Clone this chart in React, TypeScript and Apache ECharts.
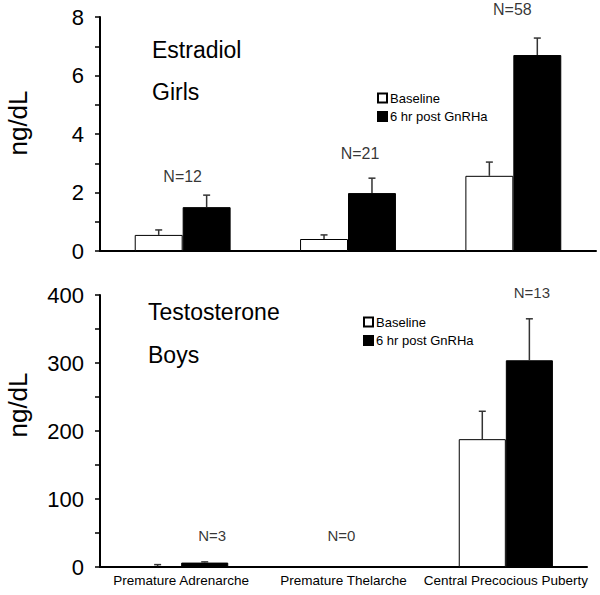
import React, { useEffect, useRef } from "react";
import * as echarts from "echarts";

const categories = ["Premature Adrenarche", "Premature Thelarche", "Central Precocious Puberty"];
const seriesNames = ["Baseline", "6 hr post GnRHa"];

// Girls – Estradiol (ng/dL)
const girlsBaseline = [0.55, 0.41, 2.57];
const girlsBaselineErr = [0.72, 0.55, 3.04];
const girlsPost = [1.5, 1.98, 6.7];
const girlsPostErr = [1.91, 2.49, 7.28];
const girlsN = ["N=12", "N=21", "N=58"];
const girlsNY = [2.53, 3.35, 8.24];

// Boys – Testosterone (ng/dL)
const boysBaseline: (number | null)[] = [1.2, null, 188];
const boysBaselineErr: (number | null)[] = [3.5, null, 229];
const boysPost: (number | null)[] = [6.5, null, 304];
const boysPostErr: (number | null)[] = [7.5, null, 365];
const boysN = ["N=3", "N=0", "N=13"];
const boysNY = [47, 47, 403];

const FONT = "Liberation Sans";
const GAP = 0.42;
const girlsNOffset = [0, 12, -1];
const boysNOffset = [31, -2, 26];

function errData(vals: (number | null)[], errs: (number | null)[], side: number) {
  const out: number[][] = [];
  vals.forEach((v, i) => {
    const e = errs[i];
    if (v != null && e != null) out.push([i, v, e, side]);
  });
  return out;
}

const renderErr = (params: any, api: any) => {
  const cat = api.value(0);
  const v = api.value(1);
  const e = api.value(2);
  const side = api.value(3);
  const band = api.size([1, 0])[0];
  const barW = (band * (1 - GAP)) / 2;
  const p0 = api.coord([cat, v]);
  const p1 = api.coord([cat, e]);
  const x = p0[0] + (side * barW) / 2;
  const st = { stroke: "#333", lineWidth: 1.5 };
  return {
    type: "group",
    children: [
      { type: "line", shape: { x1: x, y1: p0[1], x2: x, y2: p1[1] }, style: st },
      { type: "line", shape: { x1: x - 3.5, y1: p1[1], x2: x + 3.5, y2: p1[1] }, style: st },
    ],
  };
};

function nData(labels: string[], ys: number[], offs: number[]) {
  return labels.map((n, i) => ({
    value: [i, ys[i]],
    name: n,
    label: { offset: [offs[i], 0] },
  }));
}

export default function App() {
  const ref = useRef<HTMLDivElement>(null);
  useEffect(() => {
    if (!ref.current) return;
    const chart = echarts.init(ref.current, null, { renderer: "svg" });
    const axisLine = { lineStyle: { color: "#000", width: 2 } };
    const yCommon = (max: number, interval: number) => ({
      type: "value",
      min: 0,
      max,
      interval,
      axisLine: { show: true, ...axisLine },
      axisTick: { show: true, length: 5, lineStyle: { color: "#000", width: 1.5 } },
      minorTick: { show: true, splitNumber: 2, length: 5, lineStyle: { color: "#000", width: 1.5 } },
      splitLine: { show: false },
      axisLabel: { fontFamily: FONT, fontSize: 22, color: "#000", margin: 16 },
    });
    const barStyleWhite = { color: "#fff", borderColor: "#000", borderWidth: 1 };
    const barStyleBlack = { color: "#000", borderColor: "#000", borderWidth: 1 };
    const nLabel = {
      show: true,
      position: "inside",
      formatter: (p: any) => p.name,
      fontFamily: FONT,
      fontSize: 16,
      color: "#000",
    };
    const legendCommon = {
      orient: "vertical",
      icon: "rect",
      itemWidth: 9,
      itemHeight: 9,
      itemGap: 5.5,
      padding: 0,
      data: seriesNames,
      textStyle: { fontFamily: FONT, fontSize: 13, color: "#000", padding: [0, 0, 0, -2] },
      selectedMode: false,
    };
    chart.setOption({
      animation: false,
      backgroundColor: "#fff",
      textStyle: { fontFamily: FONT },
      grid: [
        { left: 100, top: 17, width: 496, height: 234 },
        { left: 100, top: 295, width: 487, height: 272 },
      ],
      legend: [
        { ...legendCommon, left: 377, top: 91.5 },
        { ...legendCommon, left: 363, top: 315.5 },
      ],
      xAxis: [
        {
          type: "category",
          gridIndex: 0,
          data: categories,
          axisLine,
          axisTick: { show: false },
          axisLabel: { show: false },
        },
        {
          type: "category",
          gridIndex: 1,
          data: categories,
          axisLine,
          axisTick: { show: false },
          axisLabel: { fontFamily: FONT, fontSize: 13.5, color: "#000", margin: 6, interval: 0, hideOverlap: false },
        },
      ],
      yAxis: [
        { ...yCommon(8, 2), gridIndex: 0 },
        { ...yCommon(400, 100), gridIndex: 1 },
      ],
      graphic: [
        { type: "text", x: 18, y: 123, rotation: Math.PI / 2, style: { text: "ng/dL", fontFamily: FONT, fontSize: 26, fill: "#000", textAlign: "center", textVerticalAlign: "middle" } },
        { type: "text", x: 18, y: 405, rotation: Math.PI / 2, style: { text: "ng/dL", fontFamily: FONT, fontSize: 26, fill: "#000", textAlign: "center", textVerticalAlign: "middle" } },
        { type: "text", x: 152, y: 50, style: { text: "Estradiol", fontFamily: FONT, fontSize: 23, fill: "#000", textVerticalAlign: "middle" } },
        { type: "text", x: 152, y: 92, style: { text: "Girls", fontFamily: FONT, fontSize: 23, fill: "#000", textVerticalAlign: "middle" } },
        { type: "text", x: 148, y: 312, style: { text: "Testosterone", fontFamily: FONT, fontSize: 23, fill: "#000", textVerticalAlign: "middle" } },
        { type: "text", x: 148, y: 355, style: { text: "Boys", fontFamily: FONT, fontSize: 23, fill: "#000", textVerticalAlign: "middle" } },
      ],
      series: [
        { name: seriesNames[0], type: "bar", xAxisIndex: 0, yAxisIndex: 0, data: girlsBaseline, barGap: "0%", barCategoryGap: GAP * 100 + "%", itemStyle: barStyleWhite },
        { name: seriesNames[1], type: "bar", xAxisIndex: 0, yAxisIndex: 0, data: girlsPost, barGap: "0%", barCategoryGap: GAP * 100 + "%", itemStyle: barStyleBlack },
        { name: seriesNames[0], type: "bar", xAxisIndex: 1, yAxisIndex: 1, data: boysBaseline, barGap: "0%", barCategoryGap: GAP * 100 + "%", itemStyle: barStyleWhite },
        { name: seriesNames[1], type: "bar", xAxisIndex: 1, yAxisIndex: 1, data: boysPost, barGap: "0%", barCategoryGap: GAP * 100 + "%", itemStyle: barStyleBlack },
        { name: "errG", type: "custom", xAxisIndex: 0, yAxisIndex: 0, z: 5, encode: { x: 0, y: 1 }, renderItem: renderErr, data: [...errData(girlsBaseline, girlsBaselineErr, -1), ...errData(girlsPost, girlsPostErr, 1)] },
        { name: "errB", type: "custom", xAxisIndex: 1, yAxisIndex: 1, z: 5, encode: { x: 0, y: 1 }, renderItem: renderErr, data: [...errData(boysBaseline, boysBaselineErr, -1), ...errData(boysPost, boysPostErr, 1)] },
        { name: "nG", type: "scatter", xAxisIndex: 0, yAxisIndex: 0, clip: false, symbolSize: 0, label: nLabel, data: nData(girlsN, girlsNY, girlsNOffset), silent: true },
        { name: "nB", type: "scatter", xAxisIndex: 1, yAxisIndex: 1, clip: false, symbolSize: 0, label: { ...nLabel, fontSize: 15 }, data: nData(boysN, boysNY, boysNOffset), silent: true },
      ],
    });
    return () => chart.dispose();
  }, []);
  return <div ref={ref} style={{ width: 600, height: 595, position: "absolute", left: 0, top: 0 }} />;
}
